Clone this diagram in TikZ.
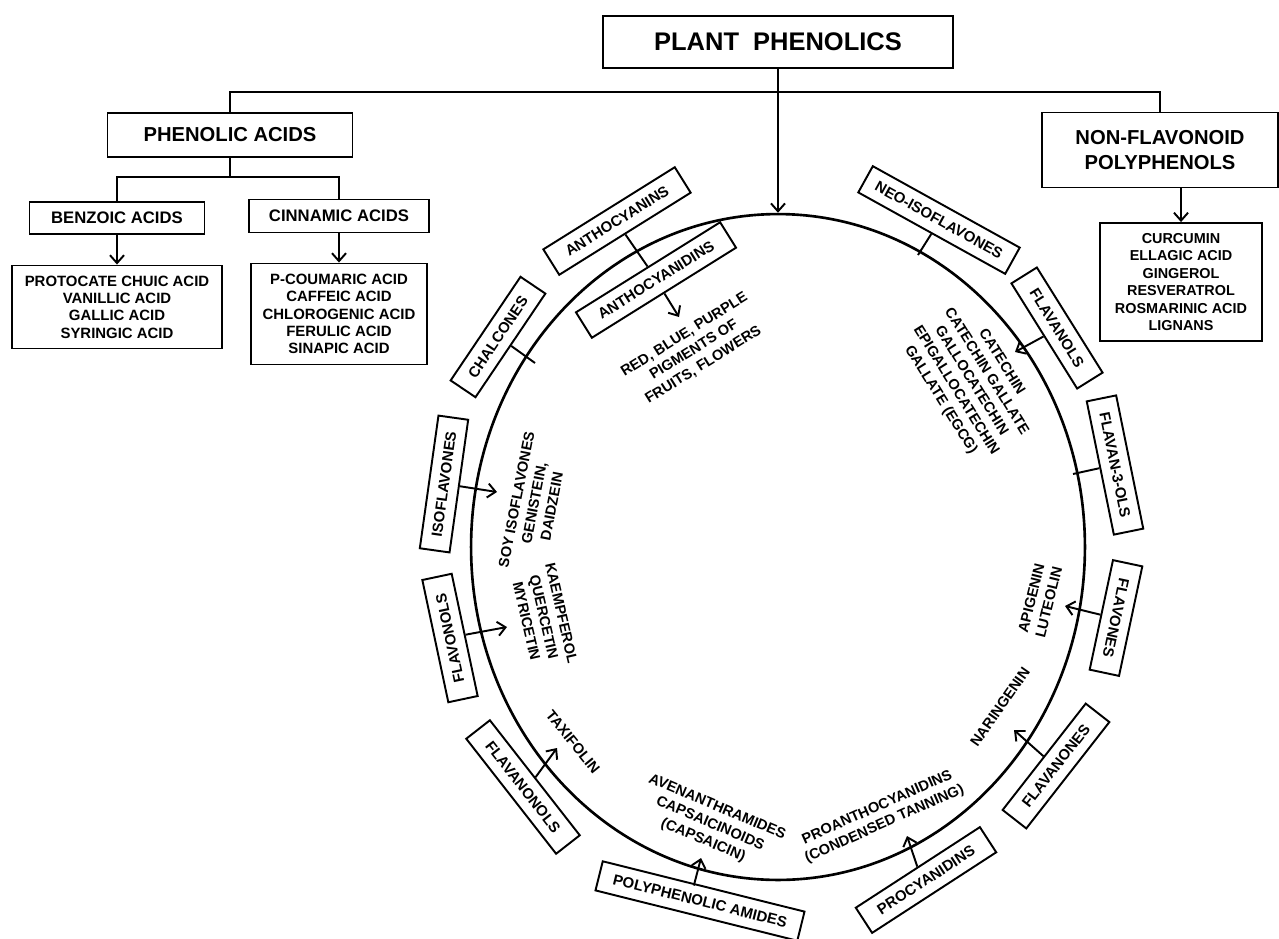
\documentclass[tikz,border=0pt]{standalone}
\usepackage{fontspec}
\setmainfont{Liberation Sans}
\usetikzlibrary{arrows.meta}
\usetikzlibrary{shapes.geometric}
\tikzset{box/.style={draw, line width=1.1pt, align=center, inner sep=2pt}}
\tikzset{cbox/.style={box, font=\fontsize{8.5}{10}\selectfont\bfseries, minimum height=0.6cm}}
\tikzset{lbl/.style={font=\fontsize{8.3}{10.2}\selectfont\bfseries, align=center, inner sep=0pt}}
\tikzset{link/.style={line width=1.1pt}}
\tikzset{arr/.style={link, -{Straight Barb[length=4.5pt,width=8pt]}}}

\begin{document}
\begin{tikzpicture}[x=0.02cm, y=-0.02cm]
            \useasboundingbox[fill=white] (0,0) rectangle (1279,938);

                \node[box, font=\fontsize{14.5}{17}\selectfont\bfseries, minimum width=7cm, minimum height=1.04cm] (plant) at (778,42) {PLANT\ \ PHENOLICS};
                \node[box, font=\fontsize{11.5}{13.7}\selectfont\bfseries, minimum width=4.9cm, minimum height=0.88cm] (phenolic) at (230,135) {PHENOLIC ACIDS};
                \node[box, font=\fontsize{11.5}{13.7}\selectfont\bfseries, minimum width=4.72cm, minimum height=1.5cm] (nonflav) at (1160,150) {NON-FLAVONOID\\POLYPHENOLS};
                \node[box, font=\fontsize{9.5}{11}\selectfont\bfseries, minimum width=3.5cm, minimum height=0.64cm] (benzoic) at (117,218) {BENZOIC ACIDS};
                \node[box, font=\fontsize{9.5}{11}\selectfont\bfseries, minimum width=3.6cm, minimum height=0.66cm] (cinnamic) at (339,216) {CINNAMIC ACIDS};
                \node[box, font=\fontsize{8.5}{9.9}\selectfont\bfseries, minimum width=4.2cm, minimum height=1.66cm] (benzlist) at (117,307) {PROTOCATE CHUIC ACID\\VANILLIC ACID\\GALLIC ACID\\SYRINGIC ACID};
                \node[box, font=\fontsize{8.5}{9.9}\selectfont\bfseries, minimum width=3.52cm, minimum height=2.02cm] (cinnlist) at (339,314) {P-COUMARIC ACID\\CAFFEIC ACID\\CHLOROGENIC ACID\\FERULIC ACID\\SINAPIC ACID};
                \node[box, font=\fontsize{8.2}{10}\selectfont\bfseries, minimum width=3.24cm, minimum height=2.36cm] (nflist) at (1181,282) {CURCUMIN\\ELLAGIC ACID\\GINGEROL\\RESVERATROL\\ROSMARINIC ACID\\LIGNANS};
                \node[draw, ellipse, line width=1.5pt, inner sep=0pt, minimum width=12.28cm, minimum height=13.32cm] (ring) at (778,547) {};

                \coordinate (hub) at (778,92);
                \coordinate (split) at (phenolic.south |- 0,177);
                \draw[link] (plant) -- (hub);
                \draw[link] (phenolic.north) |- (hub) -| (nonflav.north);
                \draw[arr] (hub) -- (ring.north);
                \draw[link] (phenolic) -- (split);
                \draw[link] (benzoic.north) |- (split) -| (cinnamic.north);
                \draw[arr] (benzoic) -- (benzlist);
                \draw[arr] (cinnamic) -- (cinnlist);
                \draw[arr] (nonflav.south -| nflist.north) -- (nflist.north);

                \node[cbox, minimum width=3.1cm, rotate=32] (anthocyanins) at (617,221) {ANTHOCYANINS};
                \node[cbox, minimum width=3.4cm, rotate=32] (anthocyanidins) at (656,280) {ANTHOCYANIDINS};
                \node[lbl, rotate=32] (pigments) at (694,350) {RED, BLUE, PURPLE\\PIGMENTS OF\\FRUITS, FLOWERS};
                \node[cbox, minimum width=2.5cm, rotate=56] (chalcones) at (498,337) {CHALCONES};
                \node[cbox, minimum width=2.68cm, rotate=82] (isoflavones) at (444,484) {ISOFLAVONES};
                \node[lbl, rotate=79] (soy) at (534,503) {SOY ISOFLAVONES\\GENISTEIN,\\DAIDZEIN};
                \node[cbox, minimum width=2.5cm, rotate=102] (flavonols) at (450,638) {FLAVONOLS};
                \node[lbl, rotate=-77] (kaempferol) at (544,617) {KAEMPFEROL\\QUERCETIN\\MYRICETIN};
                \node[cbox, minimum width=2.92cm, rotate=-52] (flavanonols) at (523,787) {FLAVANONOLS};
                \node[lbl, rotate=-51] (taxifolin) at (573,742) {TAXIFOLIN};
                \node[cbox, minimum width=4.16cm, rotate=-14] (polyamides) at (700,901) {POLYPHENOLIC AMIDES};
                \node[lbl, rotate=-23] (capsaicin) at (710,824) {AVENANTHRAMIDES\\CAPSAICINOIDS\\(CAPSAICIN)};
                \node[cbox, minimum width=2.96cm, rotate=33] (procyanidins) at (926,880) {PROCYANIDINS};
                \node[lbl, rotate=24] (proantho) at (881,816) {PROANTHOCYANIDINS\\(CONDENSED TANNING)};
                \node[cbox, minimum width=2.7cm, rotate=52] (flavanones) at (1056,766) {FLAVANONES};
                \node[lbl, rotate=55] (naringenin) at (1000,707) {NARINGENIN};
                \node[cbox, minimum width=2.24cm, rotate=-102] (flavones) at (1116,618) {FLAVONES};
                \node[lbl, rotate=76] (apigenin) at (1040,600) {APIGENIN\\LUTEOLIN};
                \node[cbox, minimum width=2.72cm, rotate=-78.5] (flavanthreeols) at (1115,465) {FLAVAN-3-OLS};
                \node[cbox, minimum width=2.48cm, rotate=-58] (flavanols) at (1057,328) {FLAVANOLS};
                \node[lbl, rotate=-58] (catechin) at (971,381) {CATECHIN\\CATECHIN GALLATE\\GALLOCATECHIN\\EPIGALLOCATECHIN\\GALLATE (EGCG)};
                \node[cbox, minimum width=3.36cm, rotate=-29] (neoiso) at (939,220) {NEO-ISOFLAVONES};

                \coordinate (pigtip) at (679,317);
                \coordinate (chalconestick) at (535,363);
                \coordinate (soytip) at (497,492);
                \coordinate (kaemtip) at (507,627);
                \coordinate (taxtip) at (557,748);
                \coordinate (capstip) at (701,858);
                \coordinate (protip) at (907,836);
                \coordinate (nartip) at (1014,730);
                \coordinate (apitip) at (1065,606);
                \coordinate (flavantick) at (1073,474);
                \coordinate (cattip) at (1015,352);
                \coordinate (neotick) at (918,255);

                \draw[link] (anthocyanins.south) -- (anthocyanidins.north);
                \draw[arr] (anthocyanidins.south) -- (pigtip);
                \draw[link] (chalcones.south) -- (chalconestick);
                \draw[arr] (isoflavones.south) -- (soytip);
                \draw[arr] (flavonols.south) -- (kaemtip);
                \draw[arr] (flavanonols.north) -- (taxtip);
                \draw[arr] ([xshift=-0.2cm]polyamides.north) -- (capstip);
                \draw[arr] (procyanidins.north) -- (protip);
                \draw[arr] (flavanones.north) -- (nartip);
                \draw[arr] (flavones.south) -- (apitip);
                \draw[link] (flavanthreeols.south) -- (flavantick);
                \draw[arr] (flavanols.south) -- (cattip);
                \draw[link] (neoiso.south) -- (neotick);

\end{tikzpicture}
\end{document}
